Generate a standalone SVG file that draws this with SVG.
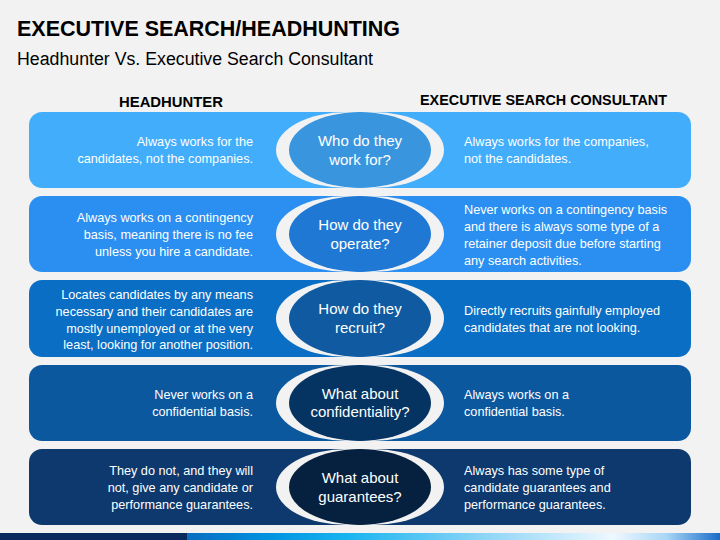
<svg xmlns="http://www.w3.org/2000/svg" width="720" height="540" viewBox="0 0 720 540">
<defs>
<style>
text{font-family:"Liberation Sans",Arial,sans-serif;}
.t{fill:#ffffff;font-size:12.7px;}
.l{text-anchor:end;}
.q{fill:#ffffff;font-size:15px;text-anchor:middle;}
.h{font-weight:bold;fill:#000000;}
.cres{fill:#f2f2f2;}
</style>
<linearGradient id="bar" x1="0" y1="0" x2="1" y2="0">
<stop offset="0" stop-color="#0a6cc0"/>
<stop offset="0.15" stop-color="#0092e0"/>
<stop offset="0.3" stop-color="#18b4f0"/>
<stop offset="0.55" stop-color="#8ad4f6"/>
<stop offset="0.8" stop-color="#eef8ff"/>
<stop offset="0.9" stop-color="#a8d6f6"/>
<stop offset="1" stop-color="#1a6cc8"/>
</linearGradient>
</defs>
<rect width="720" height="540" fill="#f2f2f2"/>
<g id="header">
<text class="h" x="17" y="36" font-size="22" textLength="383" lengthAdjust="spacingAndGlyphs">EXECUTIVE SEARCH/HEADHUNTING</text>
<text x="17" y="65" font-size="18" fill="#000000" textLength="356" lengthAdjust="spacingAndGlyphs">Headhunter Vs. Executive Search Consultant</text>
<text class="h" x="119" y="107" font-size="15" textLength="104" lengthAdjust="spacingAndGlyphs">HEADHUNTER</text>
<text class="h" x="420" y="105" font-size="15" textLength="247" lengthAdjust="spacingAndGlyphs">EXECUTIVE SEARCH CONSULTANT</text>
</g>
<g id="row1">
<rect x="29" y="112" width="662" height="76" rx="13" fill="#42aefb"/>
<ellipse class="cres" cx="347" cy="150" rx="71" ry="38"/>
<ellipse class="cres" cx="373" cy="150" rx="71" ry="38"/>
<ellipse cx="360" cy="150" rx="71" ry="38" fill="#3996de"/>
<text class="q" x="360" y="146">Who do they</text>
<text class="q" x="360" y="165">work for?</text>
<text class="t l" x="253" y="146">Always works for the</text>
<text class="t l" x="253" y="163">candidates, not the companies.</text>
<text class="t" x="464" y="146">Always works for the companies,</text>
<text class="t" x="464" y="163">not the candidates.</text>
</g>
<g id="row2">
<rect x="29" y="196" width="662" height="76" rx="13" fill="#2a8ff0"/>
<ellipse class="cres" cx="347" cy="234" rx="71" ry="38"/>
<ellipse class="cres" cx="373" cy="234" rx="71" ry="38"/>
<ellipse cx="360" cy="234" rx="71" ry="38" fill="#1f78d4"/>
<text class="q" x="360" y="230">How do they</text>
<text class="q" x="360" y="249">operate?</text>
<text class="t l" x="253" y="222">Always works on a contingency</text>
<text class="t l" x="253" y="239">basis, meaning there is no fee</text>
<text class="t l" x="253" y="256">unless you hire a candidate.</text>
<text class="t" x="464" y="214">Never works on a contingency basis</text>
<text class="t" x="464" y="231">and there is always some type of a</text>
<text class="t" x="464" y="248">retainer deposit due before starting</text>
<text class="t" x="464" y="265">any search activities.</text>
</g>
<g id="row3">
<rect x="29" y="280" width="662" height="77" rx="13" fill="#0a6ec4"/>
<ellipse class="cres" cx="347" cy="318.5" rx="71" ry="38.5"/>
<ellipse class="cres" cx="373" cy="318.5" rx="71" ry="38.5"/>
<ellipse cx="360" cy="318.5" rx="71" ry="38.5" fill="#0f5aa0"/>
<text class="q" x="360" y="314">How do they</text>
<text class="q" x="360" y="333">recruit?</text>
<text class="t l" x="253" y="299">Locates candidates by any means</text>
<text class="t l" x="253" y="316">necessary and their candidates are</text>
<text class="t l" x="253" y="333">mostly unemployed or at the very</text>
<text class="t l" x="253" y="349">least, looking for another position.</text>
<text class="t" x="464" y="315">Directly recruits gainfully employed</text>
<text class="t" x="464" y="332">candidates that are not looking.</text>
</g>
<g id="row4">
<rect x="29" y="365" width="662" height="76" rx="13" fill="#0c589f"/>
<ellipse class="cres" cx="347" cy="403" rx="71" ry="38"/>
<ellipse class="cres" cx="373" cy="403" rx="71" ry="38"/>
<ellipse cx="360" cy="403" rx="71" ry="38" fill="#053462"/>
<text class="q" x="360" y="399">What about</text>
<text class="q" x="360" y="417">confidentiality?</text>
<text class="t l" x="253" y="399">Never works on a</text>
<text class="t l" x="253" y="416">confidential basis.</text>
<text class="t" x="464" y="399">Always works on a</text>
<text class="t" x="464" y="416">confidential basis.</text>
</g>
<g id="row5">
<rect x="29" y="449" width="662" height="76" rx="13" fill="#0d396e"/>
<ellipse class="cres" cx="347" cy="487" rx="71" ry="38"/>
<ellipse class="cres" cx="373" cy="487" rx="71" ry="38"/>
<ellipse cx="360" cy="487" rx="71" ry="38" fill="#06213f"/>
<text class="q" x="360" y="483">What about</text>
<text class="q" x="360" y="502">guarantees?</text>
<text class="t l" x="253" y="475">They do not, and they will</text>
<text class="t l" x="253" y="492">not, give any candidate or</text>
<text class="t l" x="253" y="509">performance guarantees.</text>
<text class="t" x="464" y="475">Always has some type of</text>
<text class="t" x="464" y="492">candidate guarantees and</text>
<text class="t" x="464" y="509">performance guarantees.</text>
</g>
<g id="footer">
<rect x="0" y="533" width="188" height="7" fill="#0a2a5e"/>
<rect x="187" y="533" width="533" height="7" fill="url(#bar)"/>
</g>
<g id="connectors"/>
</svg>
